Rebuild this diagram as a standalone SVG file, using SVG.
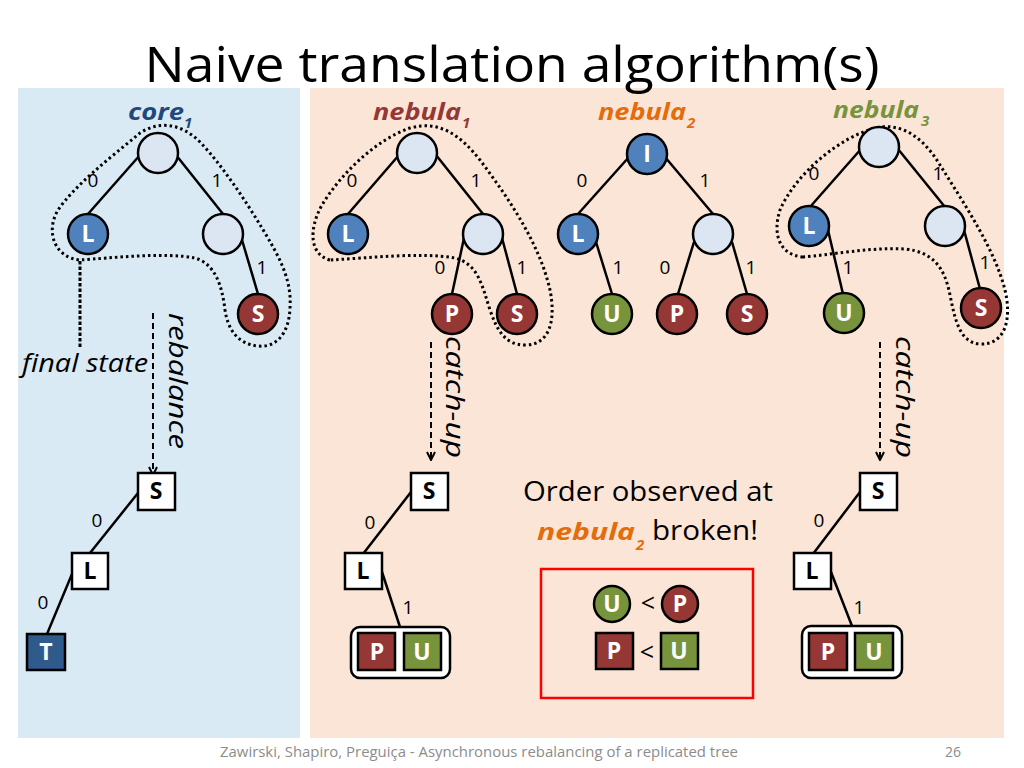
<svg xmlns="http://www.w3.org/2000/svg" width="1024" height="768" viewBox="0 0 1024 768">
<defs>
<style>
.t{font-family:"Open Sans","Liberation Sans",sans-serif}
.edge{stroke:#000;stroke-width:2.5;fill:none}
.dot{stroke:#000;stroke-width:3;fill:none;stroke-dasharray:2.5 3}
.dash{stroke:#000;stroke-width:2;fill:none;stroke-dasharray:6 4}
.cb{fill:#4F81BD;stroke:#000;stroke-width:2.5}
.cr{fill:#953735;stroke:#000;stroke-width:2.5}
.cg{fill:#77933C;stroke:#000;stroke-width:2.5}
.cl{fill:#DCE6F2;stroke:#000;stroke-width:2.5}
.sq{fill:#fff;stroke:#000;stroke-width:2.5}
.nl{font-family:"Open Sans","Liberation Sans",sans-serif;font-weight:bold;font-size:23px;fill:#fff;text-anchor:middle}
.bl{font-family:"Open Sans","Liberation Sans",sans-serif;font-weight:bold;font-size:23px;fill:#000;text-anchor:middle}
.el{font-family:"Open Sans","Liberation Sans",sans-serif;font-size:19px;fill:#000;text-anchor:middle}
.hd{font-family:"Open Sans","Liberation Sans",sans-serif;font-weight:bold;font-style:italic;font-size:24px}
.sub{font-family:"Open Sans","Liberation Sans",sans-serif;font-weight:bold;font-style:italic;font-size:15px}
.it{font-family:"Open Sans","Liberation Sans",sans-serif;font-style:italic;font-size:25px;fill:#000}
</style>
<marker id="ah" viewBox="0 0 10 10" refX="9" refY="5" markerWidth="10" markerHeight="10" markerUnits="userSpaceOnUse" orient="auto">
<path d="M1,1 L9,5 L1,9" fill="none" stroke="#000" stroke-width="2"/>
</marker>
</defs>
<rect width="1024" height="768" fill="#fff"/>
<rect x="18" y="88" width="282" height="650" fill="#DAEAF4"/>
<rect x="310" y="88" width="694" height="650" fill="#FBE5D6"/>
<text class="t" x="512" y="82" font-size="50" text-anchor="middle" textLength="735" lengthAdjust="spacingAndGlyphs" fill="#000">Naive translation algorithm(s)</text>

<g id="headers">
<text class="hd" x="128" y="120" fill="#1F497D" textLength="56" lengthAdjust="spacingAndGlyphs">core</text><text class="sub" x="184" y="128" fill="#1F497D">1</text>
<text class="hd" x="373" y="120" fill="#953735" textLength="88" lengthAdjust="spacingAndGlyphs">nebula</text><text class="sub" x="462" y="128" fill="#953735">1</text>
<text class="hd" x="598" y="120" fill="#E46C0A" textLength="88" lengthAdjust="spacingAndGlyphs">nebula</text><text class="sub" x="687" y="128" fill="#E46C0A">2</text>
<text class="hd" x="833" y="118" fill="#77933C" textLength="86" lengthAdjust="spacingAndGlyphs">nebula</text><text class="sub" x="921" y="126" fill="#77933C">3</text>
</g>

<g id="outlines">
<path class="dot" d="M80,347 L80,260 C55,258 45,232 58,210 C75,185 110,158 140,133 C160,120 182,124 200,142 C222,165 245,200 262,228 C278,255 292,278 290,308 C289,335 275,348 258,346 C238,344 228,330 225,310 C222,285 215,264 195,258 C165,252 110,258 80,260 Z"/>
<path class="dot" d="M330,260 C310,255 308,230 322,205 C340,175 375,140 410,128 C440,120 460,135 480,160 C510,200 540,245 550,290 C556,320 550,345 525,345 C505,345 497,330 490,310 C482,285 478,264 455,258 C420,252 370,258 330,260 Z"/>
<path class="dot" d="M803,257 C780,255 772,235 780,210 C795,175 840,135 880,127 C905,124 925,140 940,165 C965,205 995,250 1005,290 C1012,320 1005,345 980,344 C960,343 955,320 950,295 C945,270 935,252 905,249 C870,247 830,255 803,257 Z"/>
</g>

<g id="connectors">
<line class="edge" x1="140" y1="155" x2="88" y2="214"/>
<line class="edge" x1="176" y1="155" x2="223" y2="214"/>
<line class="edge" x1="242" y1="240" x2="258" y2="294"/>
<line class="edge" x1="399" y1="155" x2="348" y2="214"/>
<line class="edge" x1="436" y1="155" x2="483" y2="214"/>
<line class="edge" x1="464" y1="238" x2="452" y2="294"/>
<line class="edge" x1="502" y1="238" x2="517" y2="294"/>
<line class="edge" x1="629" y1="157" x2="578" y2="214"/>
<line class="edge" x1="665" y1="157" x2="713" y2="214"/>
<line class="edge" x1="596" y1="242" x2="612" y2="294"/>
<line class="edge" x1="694" y1="242" x2="678" y2="294"/>
<line class="edge" x1="732" y1="242" x2="747" y2="294"/>
<line class="edge" x1="861" y1="149" x2="810" y2="207"/>
<line class="edge" x1="898" y1="149" x2="945" y2="207"/>
<line class="edge" x1="828" y1="230" x2="843" y2="294"/>
<line class="edge" x1="964" y1="230" x2="980" y2="289"/>
<line class="dash" x1="153" y1="313" x2="153" y2="475" marker-end="url(#ah)"/>
<line class="dash" x1="431" y1="342" x2="431" y2="460" marker-end="url(#ah)"/>
<line class="dash" x1="880" y1="342" x2="880" y2="460" marker-end="url(#ah)"/>
<line class="edge" x1="138" y1="493" x2="90" y2="553"/>
<line class="edge" x1="72" y1="574" x2="47" y2="634"/>
<line class="edge" x1="411" y1="492" x2="363" y2="554"/>
<line class="edge" x1="382" y1="572" x2="400" y2="627"/>
<line class="edge" x1="860" y1="492" x2="813" y2="554"/>
<line class="edge" x1="831" y1="572" x2="852" y2="626"/>
</g>

<g id="edge-labels">
<text class="el" x="93" y="187">0</text><text class="el" x="217" y="187">1</text><text class="el" x="262" y="274">1</text>
<text class="el" x="352" y="187">0</text><text class="el" x="476" y="187">1</text><text class="el" x="440" y="274">0</text><text class="el" x="522" y="274">1</text>
<text class="el" x="582" y="187">0</text><text class="el" x="705" y="187">1</text><text class="el" x="618" y="274">1</text><text class="el" x="665" y="274">0</text><text class="el" x="751" y="274">1</text>
<text class="el" x="814" y="180">0</text><text class="el" x="938" y="180">1</text><text class="el" x="848" y="274">1</text><text class="el" x="985" y="269">1</text>
<text class="el" x="97" y="527">0</text><text class="el" x="43" y="609">0</text>
<text class="el" x="370" y="529">0</text><text class="el" x="408" y="614">1</text>
<text class="el" x="819" y="527">0</text><text class="el" x="859" y="614">1</text>
</g>

<g id="core1-tree">
<circle class="cl" cx="158" cy="153" r="20"/>
<g id="c1-L"><circle class="cb" cx="88" cy="234" r="20"/><text class="nl" x="88" y="242">L</text></g>
<circle class="cl" cx="223" cy="234" r="20"/>
<g id="c1-S"><circle class="cr" cx="258" cy="314" r="20"/><text class="nl" x="258" y="322">S</text></g>
</g>

<g id="nebula1-tree">
<circle class="cl" cx="417" cy="153" r="20"/>
<g id="n1-L"><circle class="cb" cx="348" cy="234" r="20"/><text class="nl" x="348" y="242">L</text></g>
<circle class="cl" cx="483" cy="234" r="20"/>
<g id="n1-P"><circle class="cr" cx="452" cy="314" r="20"/><text class="nl" x="452" y="322">P</text></g>
<g id="n1-S"><circle class="cr" cx="517" cy="314" r="20"/><text class="nl" x="517" y="322">S</text></g>
</g>

<g id="nebula2-tree">
<g id="n2-I"><circle class="cb" cx="647" cy="154" r="20"/><text class="nl" x="647" y="162">I</text></g>
<g id="n2-L"><circle class="cb" cx="578" cy="234" r="20"/><text class="nl" x="578" y="242">L</text></g>
<circle class="cl" cx="713" cy="234" r="20"/>
<g id="n2-U"><circle class="cg" cx="612" cy="314" r="20"/><text class="nl" x="612" y="322">U</text></g>
<g id="n2-P"><circle class="cr" cx="677" cy="314" r="20"/><text class="nl" x="677" y="322">P</text></g>
<g id="n2-S"><circle class="cr" cx="747" cy="314" r="20"/><text class="nl" x="747" y="322">S</text></g>
</g>

<g id="nebula3-tree">
<circle class="cl" cx="879" cy="147" r="20"/>
<g id="n3-L"><circle class="cb" cx="809" cy="226" r="20"/><text class="nl" x="809" y="234">L</text></g>
<circle class="cl" cx="945" cy="226" r="20"/>
<g id="n3-U"><circle class="cg" cx="844" cy="313" r="20"/><text class="nl" x="844" y="321">U</text></g>
<g id="n3-S"><circle class="cr" cx="981" cy="308" r="20"/><text class="nl" x="981" y="316">S</text></g>
</g>

<g id="arrow-labels">
<text class="it" x="22" y="372" textLength="126" lengthAdjust="spacingAndGlyphs">final state</text>
<text class="it" transform="translate(169,313) rotate(90)" textLength="136" lengthAdjust="spacingAndGlyphs">rebalance</text>
<text class="it" transform="translate(446,336) rotate(90)" textLength="122" lengthAdjust="spacingAndGlyphs">catch-up</text>
<text class="it" transform="translate(896,336) rotate(90)" textLength="122" lengthAdjust="spacingAndGlyphs">catch-up</text>
</g>

<g id="core1-result">
<g id="r1-S"><rect class="sq" x="138" y="473" width="37" height="37"/><text class="bl" x="156" y="499">S</text></g>
<g id="r1-L"><rect class="sq" x="72" y="553" width="36" height="36"/><text class="bl" x="90" y="579">L</text></g>
<g id="r1-T"><rect x="27" y="634" width="38" height="36" fill="#2E5A8C" stroke="#000" stroke-width="2.5"/><text class="nl" x="46" y="660">T</text></g>
</g>

<g id="nebula1-result">
<g id="r2-S"><rect class="sq" x="411" y="473" width="37" height="37"/><text class="bl" x="429" y="499">S</text></g>
<g id="r2-L"><rect class="sq" x="345" y="553" width="37" height="36"/><text class="bl" x="363" y="579">L</text></g>
<g id="r2-PU"><rect x="351" y="627" width="99" height="51" rx="9" fill="#fff" stroke="#000" stroke-width="2.5"/>
<rect x="358" y="633" width="37" height="37" fill="#953735" stroke="#000" stroke-width="2.5"/><text class="nl" x="377" y="660">P</text>
<rect x="404" y="633" width="37" height="37" fill="#77933C" stroke="#000" stroke-width="2.5"/><text class="nl" x="422" y="660">U</text></g>
</g>

<g id="nebula3-result">
<g id="r3-S"><rect class="sq" x="860" y="473" width="37" height="37"/><text class="bl" x="878" y="499">S</text></g>
<g id="r3-L"><rect class="sq" x="794" y="553" width="37" height="36"/><text class="bl" x="812" y="579">L</text></g>
<g id="r3-PU"><rect x="802" y="626" width="100" height="52" rx="9" fill="#fff" stroke="#000" stroke-width="2.5"/>
<rect x="809" y="633" width="38" height="37" fill="#953735" stroke="#000" stroke-width="2.5"/><text class="nl" x="828" y="660">P</text>
<rect x="855" y="633" width="38" height="37" fill="#77933C" stroke="#000" stroke-width="2.5"/><text class="nl" x="874" y="660">U</text></g>
</g>

<g id="note">
<text class="t" x="648" y="501" font-size="27" text-anchor="middle" textLength="250" lengthAdjust="spacingAndGlyphs" fill="#000">Order observed at</text>
<text class="hd" x="537" y="540" fill="#E46C0A" font-size="27" textLength="98" lengthAdjust="spacingAndGlyphs">nebula</text><text class="sub" x="636" y="550" fill="#E46C0A" font-size="17">2</text>
<text class="t" x="652" y="540" font-size="27" textLength="106" lengthAdjust="spacingAndGlyphs" fill="#000">broken!</text>
<rect x="541" y="569" width="212" height="129" fill="none" stroke="#FF0000" stroke-width="2.5"/>
<circle class="cg" cx="612" cy="604" r="18"/><text class="nl" x="612" y="612">U</text>
<text class="t" x="648" y="612" font-size="25" text-anchor="middle" fill="#000">&lt;</text>
<circle class="cr" cx="680" cy="604" r="18"/><text class="nl" x="680" y="612">P</text>
<rect x="596" y="633" width="37" height="36" fill="#953735" stroke="#000" stroke-width="2.5"/><text class="nl" x="614" y="659">P</text>
<text class="t" x="647" y="661" font-size="25" text-anchor="middle" fill="#000">&lt;</text>
<rect x="661" y="633" width="37" height="36" fill="#77933C" stroke="#000" stroke-width="2.5"/><text class="nl" x="679" y="659">U</text>
</g>

<text class="t" x="479" y="757" font-size="14" text-anchor="middle" fill="#8C8C8C" textLength="518" lengthAdjust="spacingAndGlyphs">Zawirski, Shapiro, Preguiça - Asynchronous rebalancing of a replicated tree</text>
<text class="t" x="953" y="757" font-size="14" text-anchor="middle" fill="#8C8C8C">26</text>
</svg>
